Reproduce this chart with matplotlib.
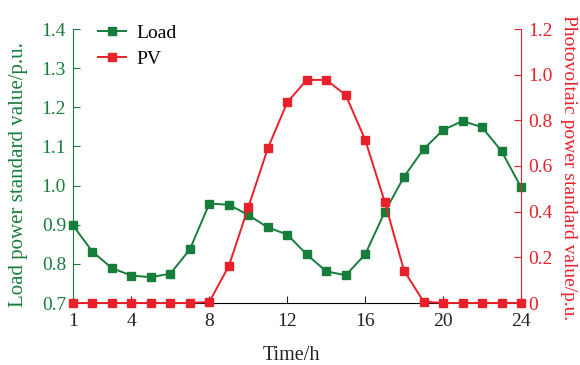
import matplotlib
matplotlib.use("Agg")
import matplotlib.pyplot as plt

hours = list(range(1, 25))
load = [0.898, 0.831, 0.789, 0.770, 0.766, 0.775, 0.837, 0.954, 0.951, 0.925,
        0.893, 0.875, 0.824, 0.781, 0.771, 0.824, 0.932, 1.023, 1.093, 1.142,
        1.165, 1.149, 1.088, 0.996]
pv = [0, 0, 0, 0, 0, 0, 0, 0.005, 0.162, 0.419, 0.677, 0.879, 0.977, 0.977,
      0.911, 0.715, 0.444, 0.141, 0.006, 0, 0, 0, 0, 0]
x_ticks = [1, 4, 8, 12, 16, 20, 24]
left_ticks = [0.7, 0.8, 0.9, 1.0, 1.1, 1.2, 1.3, 1.4]
right_ticks = [0, 0.2, 0.4, 0.6, 0.8, 1.0, 1.2]
right_labels = ["0", "0.2", "0.4", "0.6", "0.8", "1.0", "1.2"]

green = "#177d3b"
red = "#e8202a"

plt.rcParams['font.family'] = ['Liberation Serif', 'DejaVu Serif']

fig = plt.figure(figsize=(5.8, 3.65), dpi=100)
ax = fig.add_axes([73/580, 1-303/365, 448/580, 274/365])
ax2 = ax.twinx()

l1, = ax.plot(hours, load, color=green, marker='s', markersize=6.2, lw=1.4, label='Load', clip_on=False, zorder=3)
l2, = ax2.plot(hours, pv, color=red, marker='s', markersize=6.2, lw=1.4, label='PV', clip_on=False, zorder=3)

ax.set_xlim(1, 24)
ax.set_ylim(0.7, 1.4)
ax2.set_ylim(0, 1.2)
ax.set_xticks(x_ticks)
ax.set_yticks(left_ticks)
ax.set_yticklabels([f"{v:.1f}" for v in left_ticks])
ax2.set_yticks(right_ticks)
ax2.set_yticklabels(right_labels)

for a in (ax, ax2):
    a.spines['top'].set_visible(False)
ax.spines['left'].set_color(green)
ax.spines['right'].set_visible(False)
ax2.spines['left'].set_visible(False)
ax2.spines['bottom'].set_visible(False)
ax2.spines['right'].set_color(red)

ax.tick_params(axis='y', direction='in', colors=green, labelsize=14, length=5, pad=5)
ax.tick_params(axis='x', direction='in', colors='#222222', labelsize=14, length=5, pad=7)
ax2.tick_params(axis='y', direction='in', colors=red, labelsize=14, length=5, pad=5)

ax.text((291-73)/448, (303-356)/274, 'Time/h', transform=ax.transAxes, fontsize=14.5,
        color='#222222', ha='center', va='center')
ax.text((19-73)/448, (303-175)/274, 'Load power standard value/p.u.', transform=ax.transAxes,
        fontsize=15, color=green, ha='center', va='center', rotation=90)
ax.text((568-73)/448, (303-168)/274, 'Photovoltaic power standard value/p.u.', transform=ax.transAxes,
        fontsize=14, color=red, ha='center', va='center', rotation=-90)

ax.legend(handles=[l1, l2], loc='upper left', bbox_to_anchor=((98-73)/448, (303-24)/274),
          frameon=False, borderpad=0, borderaxespad=0, fontsize=14,
          handlelength=1.45, handletextpad=0.5, labelspacing=0.45)

fig.savefig('out.png', dpi=100)
